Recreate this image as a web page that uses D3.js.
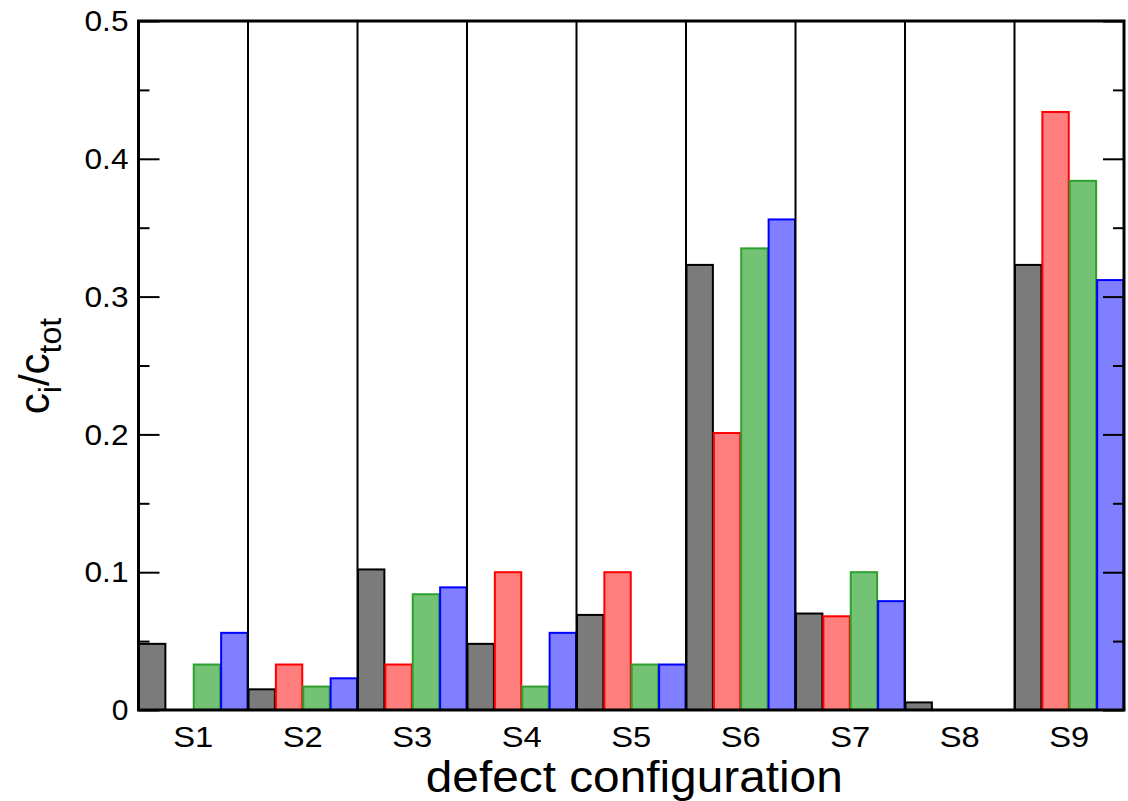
<!DOCTYPE html>
<html>
<head>
<meta charset="utf-8">
<script src="https://cdn.jsdelivr.net/npm/d3@7"></script>
<style>
  html, body { margin: 0; padding: 0; background: #fff; }
  svg { display: block; font-family: "Liberation Sans", Arial, Helvetica, sans-serif; }
</style>
</head>
<body>
<svg id="chart" width="1128" height="801"></svg>
<script>
// ---- data ----
const categories = ["S1", "S2", "S3", "S4", "S5", "S6", "S7", "S8", "S9"];
const seriesNames = ["black", "red", "green", "blue"];
const seriesBlack = [0.048, 0.015, 0.102, 0.048, 0.069, 0.323, 0.070, 0.0055, 0.323];
const seriesRed   = [0.0,   0.033, 0.033, 0.100, 0.100, 0.201, 0.068, 0.0,    0.434];
const seriesGreen = [0.033, 0.017, 0.084, 0.017, 0.033, 0.335, 0.100, 0.0,    0.384];
const seriesBlue  = [0.056, 0.023, 0.089, 0.056, 0.033, 0.356, 0.079, 0.0,    0.312];
const yMajorTicks = [0, 0.1, 0.2, 0.3, 0.4, 0.5];
const yMinorTicks = [0.05, 0.15, 0.25, 0.35, 0.45];

const seriesValues = [seriesBlack, seriesRed, seriesGreen, seriesBlue];
const fills   = ["#7b7b7b", "#ff7f7f", "#74c274", "#7f7fff"];
const strokes = ["#000000", "#ff0000", "#2ea02e", "#0000ff"];

// ---- layout ----
const svg = d3.select("#chart");
const L = 138.5, R = 1124, T = 21, B = 710;

const x = d3.scaleBand().domain(categories).range([L, R]).paddingInner(0).paddingOuter(0);
const xs = d3.scaleBand().domain(seriesNames).range([0, x.bandwidth()]).padding(0);
const y = d3.scaleLinear().domain([0, 0.5]).range([B, T]);

// bars
const rows = [];
categories.forEach((c, i) => {
  seriesNames.forEach((s, j) => rows.push({ cat: c, s: s, j: j, v: seriesValues[j][i] }));
});

svg.append("g").selectAll("rect").data(rows).join("rect")
  .attr("x", d => x(d.cat) + xs(d.s) + 0.5)
  .attr("y", d => y(d.v))
  .attr("width", xs.bandwidth() - 1)
  .attr("height", d => Math.max(0, y(0) - y(d.v)))
  .attr("fill", d => fills[d.j])
  .attr("stroke", d => strokes[d.j])
  .attr("stroke-width", 2);

// separators between groups
svg.append("g").selectAll("line").data(categories.slice(1)).join("line")
  .attr("x1", d => x(d)).attr("x2", d => x(d))
  .attr("y1", T).attr("y2", B)
  .attr("stroke", "#000").attr("stroke-width", 2);

// y axes (inward ticks) left
const fontTick = 30;
const yAxisLeft = d3.axisLeft(y).tickValues(yMajorTicks).tickSizeInner(-21).tickSizeOuter(0).tickPadding(10)
  .tickFormat(d => d === 0 ? "0" : d3.format(".1f")(d));
const gL = svg.append("g").attr("transform", `translate(${L},0)`).call(yAxisLeft);
gL.select(".domain").remove();
gL.selectAll(".tick line").attr("stroke", "#000").attr("stroke-width", 2);
gL.selectAll(".tick text").attr("font-size", fontTick).attr("fill", "#000")
  .attr("font-family", "Liberation Sans, Arial, sans-serif")
  .attr("textLength", d => d === 0 ? null : 44).attr("lengthAdjust", "spacingAndGlyphs");

const yMinorLeft = d3.axisLeft(y).tickValues(yMinorTicks).tickSizeInner(-11).tickSizeOuter(0).tickFormat("");
const gLm = svg.append("g").attr("transform", `translate(${L},0)`).call(yMinorLeft);
gLm.select(".domain").remove();
gLm.selectAll(".tick line").attr("stroke", "#000").attr("stroke-width", 2);

// right
const yAxisRight = d3.axisRight(y).tickValues(yMajorTicks).tickSizeInner(-21).tickSizeOuter(0).tickFormat("");
const gR = svg.append("g").attr("transform", `translate(${R},0)`).call(yAxisRight);
gR.select(".domain").remove();
gR.selectAll(".tick line").attr("stroke", "#000").attr("stroke-width", 2);
const yMinorRight = d3.axisRight(y).tickValues(yMinorTicks).tickSizeInner(-11).tickSizeOuter(0).tickFormat("");
const gRm = svg.append("g").attr("transform", `translate(${R},0)`).call(yMinorRight);
gRm.select(".domain").remove();
gRm.selectAll(".tick line").attr("stroke", "#000").attr("stroke-width", 2);

// x axis labels
const xAxis = d3.axisBottom(x).tickSize(0).tickPadding(0);
const gX = svg.append("g").attr("transform", `translate(0,${B})`).call(xAxis);
gX.select(".domain").remove();
gX.selectAll(".tick text").attr("font-size", fontTick).attr("fill", "#000")
  .attr("font-family", "Liberation Sans, Arial, sans-serif")
  .attr("dy", null).attr("y", 37)
  .attr("textLength", 40).attr("lengthAdjust", "spacingAndGlyphs");

// frame
svg.append("rect").attr("x", L).attr("y", T).attr("width", R - L).attr("height", B - T)
  .attr("fill", "none").attr("stroke", "#000").attr("stroke-width", 3);

// x title
svg.append("text").attr("x", (L + R) / 2 + 3).attr("y", 792)
  .attr("text-anchor", "middle").attr("font-size", 45).attr("fill", "#000")
  .attr("textLength", 417).attr("lengthAdjust", "spacingAndGlyphs")
  .text("defect configuration");

// y title
const yt = svg.append("text").attr("transform", "translate(49,366) rotate(-90)")
  .attr("text-anchor", "middle").attr("font-size", 42).attr("fill", "#000");
yt.append("tspan").text("c");
yt.append("tspan").attr("font-size", 32).attr("dy", 12).text("i");
yt.append("tspan").attr("dy", -12).text("/c");
yt.append("tspan").attr("font-size", 32).attr("dy", 12).text("tot");
</script>
</body>
</html>
